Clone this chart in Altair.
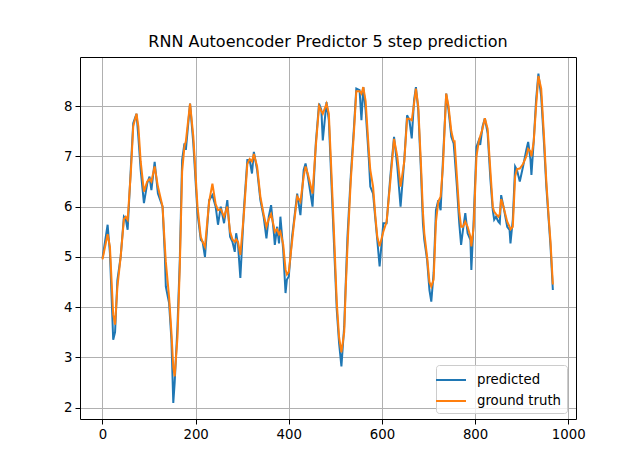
import altair as alt
import pandas as pd

x_vals = [0, 11, 16, 23, 27, 32, 39, 46, 50, 54, 61, 66, 73, 77, 82, 89, 96, 101, 105, 112,
          119, 129, 134, 136, 143, 148, 152, 155, 161, 166, 171, 176, 179, 188, 195, 204, 211, 215, 220, 229,
          236, 243, 248, 254, 261, 268, 274, 279, 284, 287, 291, 296, 304, 311, 316, 321, 325, 332, 339, 346,
          352, 357, 362, 368, 370, 375, 379, 382, 388, 393, 396, 400, 407, 411, 418, 425, 432, 436, 441, 451,
          458, 465, 470, 473, 481, 486, 491, 497, 503, 508, 513, 519, 522, 526, 533, 540, 545, 552, 556, 560,
          565, 572, 575, 581, 586, 590, 595, 603, 610, 618, 626, 633, 640, 648, 654, 659, 664, 669, 673, 678,
          684, 688, 691, 697, 702, 706, 711, 716, 721, 726, 731, 738, 743, 749, 754, 756, 761, 766, 770, 774,
          779, 784, 790, 792, 797, 803, 808, 811, 816, 821, 827, 833, 838, 841, 845, 850, 853, 856, 861, 869,
          874, 876, 881, 886, 890, 896, 903, 910, 914, 919, 921, 926, 931, 936, 942, 948, 953, 958, 962, 967]

predicted = [4.97, 5.64, 5.07, 3.35, 3.5, 4.54, 5.0, 5.8, 5.75, 5.54, 6.8, 7.66, 7.85, 7.39, 6.73, 6.07, 6.46, 6.6, 6.33, 6.89,
             6.26, 6.0, 5.0, 4.41, 4.08, 3.35, 2.09, 2.5, 3.62, 4.94, 6.93, 7.26, 7.13, 8.05, 7.26, 5.87, 5.34, 5.3, 5.0, 6.13,
             6.23, 6.0, 5.64, 6.0, 5.67, 6.13, 5.4, 5.3, 5.1, 5.47, 5.24, 4.58, 6.0, 6.93, 6.93, 6.66, 7.09, 6.73, 6.13, 5.8,
             5.37, 5.8, 6.03, 5.47, 5.24, 5.6, 5.27, 5.8, 5.14, 4.28, 4.55, 4.61, 5.4, 5.7, 6.26, 5.83, 6.73, 6.86, 6.6, 6.0,
             7.26, 8.05, 7.92, 7.32, 8.08, 7.72, 6.6, 5.27, 3.95, 3.28, 2.82, 3.62, 4.41, 5.4, 6.6, 7.59, 8.35, 8.32, 7.72, 8.38,
             7.92, 6.93, 6.4, 6.26, 5.74, 5.34, 4.81, 5.67, 5.67, 6.6, 7.39, 6.8, 6.0, 6.93, 7.82, 7.72, 7.36, 8.12, 8.38, 7.92,
             6.66, 5.67, 5.34, 4.94, 4.34, 4.11, 4.68, 5.93, 6.13, 5.93, 6.93, 8.25, 7.92, 7.39, 7.26, 7.03, 6.4, 5.67, 5.24, 5.54,
             5.87, 5.47, 5.34, 4.74, 5.74, 7.19, 7.32, 7.23, 7.59, 7.76, 7.46, 6.53, 5.93, 5.74, 5.8, 5.7, 5.67, 6.23, 6.0, 5.6,
             5.54, 5.27, 5.74, 6.8, 6.73, 6.5, 6.8, 7.13, 7.29, 6.93, 6.63, 7.32, 8.12, 8.65, 8.19, 7.26, 6.4, 5.74, 5.21, 4.34]

ground_truth = [4.95, 5.45, 5.2, 3.85, 3.65, 4.4, 5.0, 5.75, 5.8, 5.74, 6.7, 7.6, 7.85, 7.6, 6.9, 6.3, 6.5, 6.55, 6.5, 6.8,
                6.4, 6.0, 5.2, 4.9, 4.2, 3.5, 2.8, 2.62, 3.4, 4.8, 6.7, 7.2, 7.3, 8.05, 7.4, 6.0, 5.4, 5.3, 5.2, 6.1,
                6.46, 6.05, 5.93, 5.95, 5.8, 6.0, 5.5, 5.35, 5.3, 5.35, 5.3, 5.04, 5.9, 6.85, 6.95, 6.9, 7.05, 6.8, 6.2, 5.85,
                5.6, 5.75, 5.85, 5.6, 5.5, 5.55, 5.45, 5.5, 5.25, 4.75, 4.65, 4.7, 5.3, 5.65, 6.2, 6.1, 6.6, 6.8, 6.65, 6.26,
                7.2, 8.0, 7.9, 7.85, 8.05, 7.85, 6.8, 5.5, 4.1, 3.4, 3.1, 3.5, 4.3, 5.2, 6.5, 7.5, 8.3, 8.3, 8.25, 8.38,
                8.1, 7.1, 6.73, 6.4, 5.8, 5.4, 5.21, 5.5, 5.7, 6.5, 7.35, 7.0, 6.4, 6.9, 7.75, 7.75, 7.72, 8.05, 8.35, 8.0,
                6.8, 5.9, 5.47, 5.0, 4.5, 4.41, 4.55, 5.7, 6.1, 6.2, 6.8, 8.25, 8.0, 7.5, 7.3, 7.3, 6.6, 5.9, 5.6, 5.6,
                5.7, 5.6, 5.4, 5.21, 5.6, 7.0, 7.3, 7.4, 7.55, 7.76, 7.55, 6.7, 6.0, 5.9, 5.85, 5.8, 5.85, 6.15, 6.0, 5.7,
                5.6, 5.55, 5.6, 6.6, 6.75, 6.76, 6.85, 7.0, 7.15, 7.1, 7.0, 7.3, 8.0, 8.6, 8.35, 7.4, 6.5, 5.8, 5.3, 4.45]

series_names = ["predicted", "ground truth"]
series_colors = ["#1f77b4", "#ff7f0e"]
x_ticks = [0, 200, 400, 600, 800, 1000]
y_ticks = [2, 3, 4, 5, 6, 7, 8]

rows = []
for x, p, g in zip(x_vals, predicted, ground_truth):
    rows.append({"step": x, "value": p, "series": "predicted"})
    rows.append({"step": x, "value": g, "series": "ground truth"})
df = pd.DataFrame(rows)

font = "DejaVu Sans"
x_scale = alt.Scale(domain=[-48.3, 1016.7], nice=False, zero=False)
y_scale = alt.Scale(domain=[1.772, 8.98], nice=False, zero=False)

color_enc = alt.Color("series:N",
                      scale=alt.Scale(domain=series_names, range=series_colors),
                      legend=alt.Legend(
                          title=None, orient="none", legendX=356, legendY=308,
                          fillColor="rgba(255,255,255,0.8)", strokeColor="#cccccc",
                          cornerRadius=3, padding=5,
                          symbolType="M-1.67,0H1.67", symbolStrokeWidth=2, symbolSize=324,
                          labelFontSize=13.3, labelFont=font, labelColor="black",
                          labelOffset=16, rowPadding=4))

base = alt.Chart(df)
pred_line = base.transform_filter(alt.datum.series == "predicted").mark_line(strokeWidth=2).encode(
    x=alt.X("step:Q", scale=x_scale, axis=alt.Axis(values=x_ticks, title=None, format="d")),
    y=alt.Y("value:Q", scale=y_scale, axis=alt.Axis(values=y_ticks, title=None, format="d")),
    color=color_enc)
truth_line = base.transform_filter(alt.datum.series == "ground truth").mark_line(strokeWidth=2).encode(
    x=alt.X("step:Q", scale=x_scale, axis=None),
    y=alt.Y("value:Q", scale=y_scale, axis=None),
    color=color_enc)
# invisible layer that only carries the top and right spines of the frame
frame = base.mark_line(opacity=0).encode(
    x=alt.X("step:Q", scale=x_scale,
            axis=alt.Axis(orient="top", labels=False, ticks=False, grid=False, title=None,
                          domain=True, domainColor="black", domainWidth=1)),
    y=alt.Y("value:Q", scale=y_scale,
            axis=alt.Axis(orient="right", labels=False, ticks=False, grid=False, title=None,
                          domain=True, domainColor="black", domainWidth=1)),
)

chart = alt.layer(pred_line, truth_line, frame).resolve_axis(
    x="independent", y="independent"
).properties(
    width=496, height=362,
    background="white",
    title=alt.TitleParams("RNN Autoencoder Predictor 5 step prediction", fontSize=16, font=font,
                          fontWeight="normal", color="black", anchor="middle", offset=9,
                          baseline="alphabetic", dy=15),
    autosize=alt.AutoSizeParams(type="none"),
    padding={"left": 80, "top": 57, "right": 64, "bottom": 53},
).configure_view(stroke=None).configure_axis(
    labelFont=font, labelFontSize=13.3, labelColor="black",
    tickColor="black", tickSize=5, tickWidth=1, labelPadding=3,
    gridColor="#b0b0b0", gridWidth=1, domain=True, domainColor="black", domainWidth=1,
)

chart.save("out.html", embed_options={"renderer": "svg", "actions": False})
